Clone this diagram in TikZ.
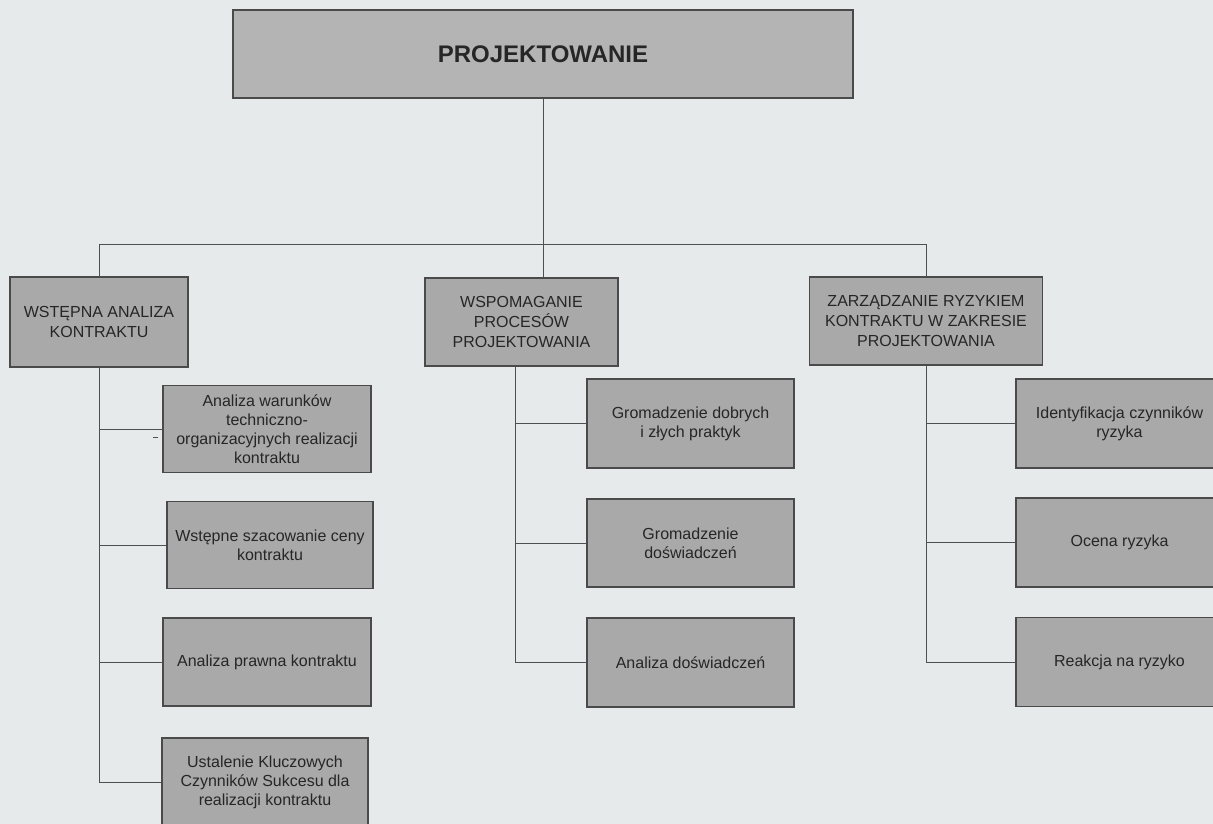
\documentclass[tikz,border=0pt]{standalone}
\usepackage{fontspec}
\setmainfont{Liberation Sans}
\definecolor{paper}{HTML}{E6EAEA}
\definecolor{boxfill}{HTML}{A9A9A9}
\definecolor{topfill}{HTML}{B4B4B4}
\definecolor{edge}{HTML}{4A4A4A}
\definecolor{ink}{HTML}{262626}
\definecolor{wire}{HTML}{505050}
\begin{document}
\begin{tikzpicture}[x=1pt,y=-1pt,
  box/.style={draw=edge, line width=1.2pt, fill=boxfill, text=ink,
    align=center, inner sep=0pt, font=\fontsize{16}{19}\selectfont},
  headbox/.style={box, font=\fontsize{16}{20}\selectfont},
  rootbox/.style={box, fill=topfill, font=\fontsize{24}{28}\selectfont\bfseries},
  wirel/.style={draw=wire, line width=0.9pt}]
\fill[paper] (0,0) rectangle (1213,824);
\useasboundingbox (0,0) rectangle (1213,824);

% root
\node[rootbox, minimum width=620pt, minimum height=88pt] (root) at (543,54) {PROJEKTOWANIE};

% first level
\node[headbox, minimum width=178pt, minimum height=90pt] (A) at (99,322) {WSTĘPNA ANALIZA\\KONTRAKTU};
\node[headbox, minimum width=193pt, minimum height=88pt] (B) at (521.5,322) {WSPOMAGANIE\\PROCESÓW\\PROJEKTOWANIA};
\node[headbox, minimum width=233pt, minimum height=88pt] (C) at (926,321) {ZARZĄDZANIE RYZYKIEM\\KONTRAKTU W ZAKRESIE\\PROJEKTOWANIA};

% left column
\node[box, minimum width=208pt, minimum height=87pt] (A1) at (267,429) {Analiza warunków\\techniczno-\\organizacyjnych realizacji\\kontraktu};
\node[box, minimum width=206pt, minimum height=87pt] (A2) at (270,545) {Wstępne szacowanie ceny\\kontraktu};
\node[box, minimum width=208pt, minimum height=88pt] (A3) at (267,662) {Analiza prawna kontraktu};
\node[box, minimum width=206pt, minimum height=88pt] (A4) at (265,782) {Ustalenie Kluczowych\\Czynników Sukcesu dla\\realizacji kontraktu};

% middle column
\node[box, minimum width=207pt, minimum height=89pt] (B1) at (690.5,423.5) {Gromadzenie dobrych\\i złych praktyk};
\node[box, minimum width=207pt, minimum height=88pt] (B2) at (690.5,543) {Gromadzenie\\doświadczeń};
\node[box, minimum width=207pt, minimum height=89pt] (B3) at (690.5,662.5) {Analiza doświadczeń};

% right column
\node[box, minimum width=207pt, minimum height=89pt] (C1) at (1119.5,423.5) {Identyfikacja czynników\\ryzyka};
\node[box, minimum width=207pt, minimum height=89pt] (C2) at (1119.5,542.5) {Ocena ryzyka};
\node[box, minimum width=207pt, minimum height=89pt] (C3) at (1119.5,662) {Reakcja na ryzyko};

% bus under the root
\coordinate (busL) at (99,244);
\coordinate (busR) at (926,244);
\draw[wirel] (busL) -- (busR);
\draw[wirel] (root.south) -- (root.south |- busL);
\draw[wirel] (A.north) -- (A.north |- busL);
\draw[wirel] (B.north -| root.south) -- (busL -| root.south);
\draw[wirel] (C.north) -- (C.north |- busR);

% left stem
\draw[wirel] (A.south) -- (A.south |- A4.west);
\foreach \n in {A1,A2,A3,A4} \draw[wirel] (\n.west) -- (\n.west -| A.south);
\draw[wirel] (153,437) -- (158,437);

% middle stem
\coordinate (Bs) at ([xshift=-6.5pt]B.south);
\draw[wirel] (Bs) -- (Bs |- B3.west);
\foreach \n in {B1,B2,B3} \draw[wirel] (\n.west) -- (\n.west -| Bs);

% right stem
\draw[wirel] (C.south) -- (C.south |- C3.west);
\foreach \n in {C1,C2,C3} \draw[wirel] (\n.west) -- (\n.west -| C.south);
\end{tikzpicture}
\end{document}
